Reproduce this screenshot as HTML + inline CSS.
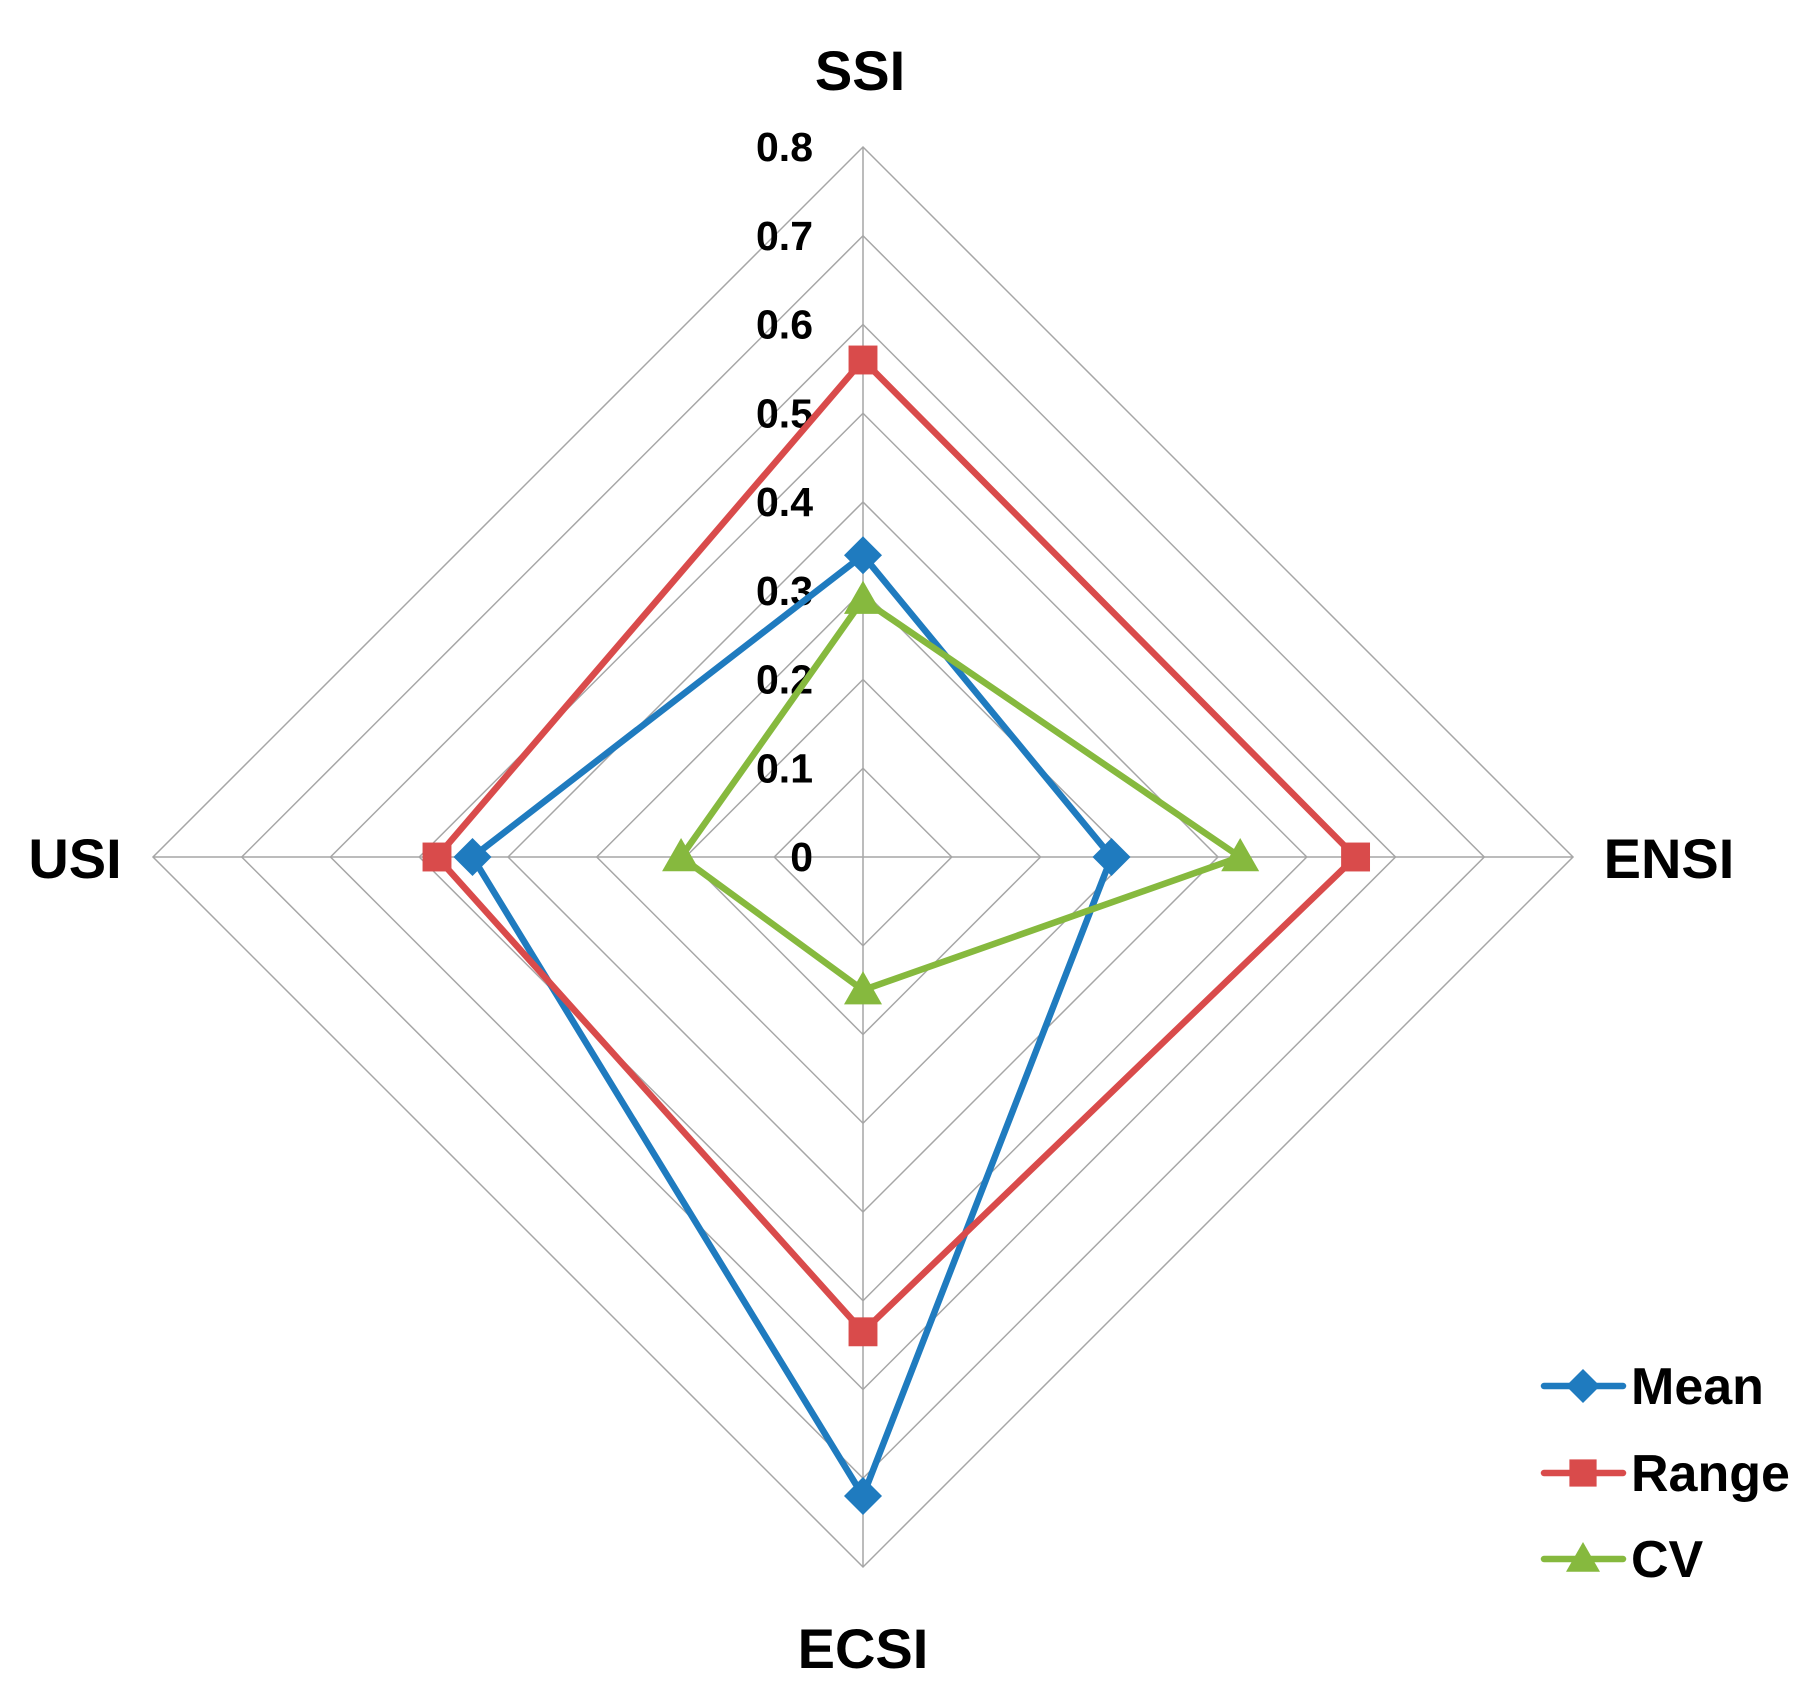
<!DOCTYPE html>
<html><head><meta charset="utf-8"><style>
html,body{margin:0;padding:0;background:#fff;}
svg{display:block;font-family:"Liberation Sans",sans-serif;font-weight:bold;}
</style></head><body>
<svg id="chart" width="1811" height="1708" viewBox="0 0 1811 1708" xmlns="http://www.w3.org/2000/svg">
<g id="grid"></g>
<g id="ticks"></g>
<g id="axlabels"></g>
<g id="series"></g>
<g id="legend"></g>
</svg>
<script>
const categories = ["SSI","ENSI","ECSI","USI"];
const tickValues = [0,0.1,0.2,0.3,0.4,0.5,0.6,0.7,0.8];
const tickLabels = ["0","0.1","0.2","0.3","0.4","0.5","0.6","0.7","0.8"];
const seriesNames = ["Mean","Range","CV"];
const meanValues = [0.34,0.28,0.72,0.44];
const rangeValues = [0.56,0.555,0.535,0.48];
const cvValues = [0.29,0.425,0.15,0.205];

const NS="http://www.w3.org/2000/svg";
const cx=863, cy=857, R=710, vmax=0.8;
const colors=["#1f7bbf","#d94b4b","#86b93e"];
const allValues=[meanValues,rangeValues,cvValues];
function ang(i){return -Math.PI/2 + i*Math.PI/2;}
function pt(i,v){const r=v/vmax*R;return [cx+r*Math.cos(ang(i)), cy+r*Math.sin(ang(i))];}
function mk(tag,attrs,parent){const e=document.createElementNS(NS,tag);for(const k in attrs)e.setAttribute(k,attrs[k]);parent.appendChild(e);return e;}

const grid=document.getElementById('grid');
tickValues.forEach((t,ti)=>{
  if(t===0)return;
  const pts=categories.map((c,i)=>pt(i,t).join(',')).join(' ');
  const g=mk('polygon',{points:pts,fill:'none',stroke:'#a6a6a6','stroke-width':1.5},grid);
  
  
});
categories.forEach((c,i)=>{
  const p=pt(i,vmax);
  const l=mk('line',{x1:cx,y1:cy,x2:p[0],y2:p[1],stroke:'#a6a6a6','stroke-width':1.5},grid);
  
  
});
const ticks=document.getElementById('ticks');
tickValues.forEach((t,ti)=>{
  const p=pt(0,t);
  const tx=mk('text',{x:cx-50,y:p[1]+14,'text-anchor':'end','font-size':41,fill:'#000'},ticks);
  tx.textContent=tickLabels[ti];
  
  
});
const axl=document.getElementById('axlabels');
const labPos=[[860,90,'middle'],[1669,878,'middle'],[863,1668,'middle'],[75,878,'middle']];
categories.forEach((c,i)=>{
  const tx=mk('text',{x:labPos[i][0],y:labPos[i][1],'text-anchor':labPos[i][2],'font-size':56,fill:'#000'},axl);
  tx.textContent=c;
  
  
});
function marker(type,x,y,col,parent,s){
  let e;
  if(type===0){e=mk('polygon',{points:`${x},${y-s} ${x+s},${y} ${x},${y+s} ${x-s},${y}`,fill:col},parent);}
  else if(type===1){e=mk('rect',{x:x-s*0.85,y:y-s*0.85,width:s*1.7,height:s*1.7,fill:col},parent);}
  else {e=mk('polygon',{points:`${x},${y-s} ${x+s},${y+s*0.75} ${x-s},${y+s*0.75}`,fill:col},parent);}
  return e;
}
const sg=document.getElementById('series');
allValues.forEach((vals,si)=>{
  const g=mk('g',{},sg);
  
  
  const pts=vals.map((v,i)=>pt(i,v));
  const poly=mk('polygon',{points:pts.map(p=>p.join(',')).join(' '),fill:'none',stroke:colors[si],'stroke-width':6.5,'stroke-linejoin':'round'},g);
  
  
  pts.forEach((p,i)=>{
    const m=marker(si,p[0],p[1],colors[si],g,si===1?17:19);
    
    
  });
});
const lg=document.getElementById('legend');
const ly=[1386,1473,1559];
seriesNames.forEach((n,si)=>{
  const g=mk('g',{},lg);
  
  
  mk('line',{x1:1544,y1:ly[si],x2:1623,y2:ly[si],stroke:colors[si],'stroke-width':6.5,'stroke-linecap':'round'},g);
  marker(si,1583,ly[si],colors[si],g,si===1?16:17);
  const t=mk('text',{x:1631,y:ly[si]+18,'font-size':52,fill:'#000'},g);
  t.textContent=n;
});
</script>
</body></html>
